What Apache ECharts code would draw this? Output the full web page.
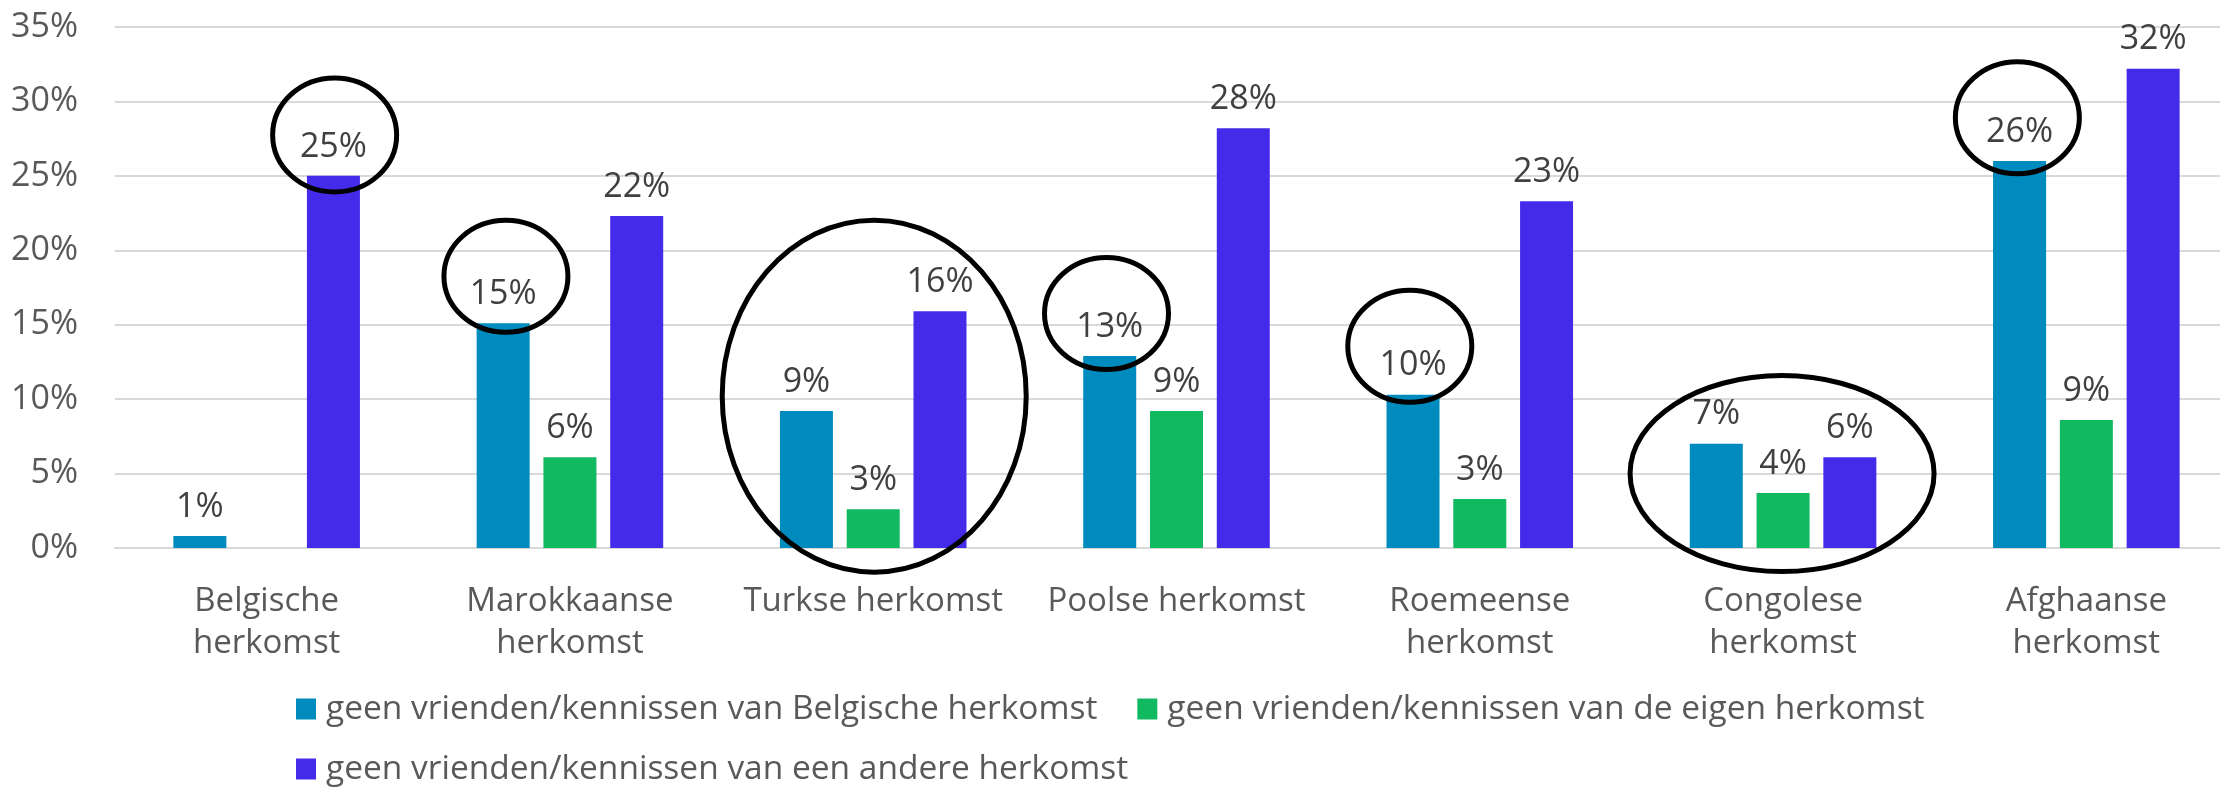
<!DOCTYPE html>
<html>
<head>
<meta charset="utf-8">
<script src="https://cdn.jsdelivr.net/npm/echarts@6/dist/echarts.min.js"></script>
<style>
  html, body { margin: 0; padding: 0; background: #fff; }
  #chart { width: 2220px; height: 787px; }
</style>
</head>
<body>
<div id="chart"></div>
<script>
var categories = ['Belgische herkomst', 'Marokkaanse herkomst', 'Turkse herkomst', 'Poolse herkomst',
    'Roemeense herkomst', 'Congolese herkomst', 'Afghaanse herkomst'];
var seriesNames = ['geen vrienden/kennissen van Belgische herkomst',
    'geen vrienden/kennissen van de eigen herkomst',
    'geen vrienden/kennissen van een andere herkomst'];
var geenBelgisch = [0.8, 15.1, 9.2, 12.9, 10.3, 7.0, 26.0];
var geenEigen = [null, 6.1, 2.6, 9.2, 3.3, 3.7, 8.6];
var geenAnder = [25.0, 22.3, 15.9, 28.2, 23.3, 6.1, 32.2];
var yTicks = [0, 5, 10, 15, 20, 25, 30, 35];

// omcirkelde waarden: categorie, hoogte (in %), verschuiving, straal
var circles = [
    {cat: 0, y: 27.75, dx: 68, rx: 62, ry: 57},
    {cat: 1, y: 18.25, dx: -64, rx: 62, ry: 56},
    {cat: 2, y: 10.2, dx: 1, rx: 152, ry: 176},
    {cat: 3, y: 15.75, dx: -70, rx: 62, ry: 56},
    {cat: 4, y: 13.55, dx: -70, rx: 62, ry: 56},
    {cat: 5, y: 5.0, dx: -1, rx: 152, ry: 98},
    {cat: 6, y: 28.9, dx: -69, rx: 62, ry: 56}
];

var colors = ['#008BBF', '#11BA60', '#432BE9'];
var font = '"Open Sans", sans-serif';

var chart = echarts.init(document.getElementById('chart'));

function barSeries(name, data, color) {
    return {
        name: name,
        type: 'bar',
        data: data,
        barWidth: 53,
        barGap: '26%',
        itemStyle: {color: color},
        label: {
            show: true,
            position: 'top',
            distance: 12,
            fontFamily: font,
            fontSize: 34,
            color: '#404040',
            formatter: function (p) {
                return Math.round(p.value) + '%';
            }
        }
    };
}

function legendRow(top, names) {
    return {
        left: 296,
        top: top,
        padding: 0,
        itemWidth: 20,
        itemHeight: 21,
        itemGap: 40,
        icon: 'rect',
        textStyle: {
            fontFamily: font,
            fontSize: 33.5,
            color: '#595959',
            padding: [0, 0, 0, 5]
        },
        data: names
    };
}

chart.setOption({
    animation: false,
    color: colors,
    grid: {left: 115, right: -18, top: 27, bottom: 239, outerBoundsMode: 'none'},
    legend: [
        legendRow(692, seriesNames.slice(0, 2)),
        legendRow(752, seriesNames.slice(2))
    ],
    xAxis: {
        type: 'category',
        data: categories,
        axisTick: {show: false},
        axisLine: {lineStyle: {color: '#d9d9d9', width: 2}},
        axisLabel: {
            interval: 0,
            margin: 33,
            fontFamily: font,
            fontSize: 33,
            lineHeight: 42,
            color: '#595959',
            formatter: function (v) {
                return v.length > 15 ? v.replace(' ', '\n') : v;
            }
        }
    },
    yAxis: {
        type: 'value',
        min: yTicks[0],
        max: yTicks[yTicks.length - 1],
        interval: 5,
        axisLine: {show: false},
        axisTick: {show: false},
        splitLine: {lineStyle: {color: '#d9d9d9', width: 2}},
        axisLabel: {
            margin: 37,
            fontFamily: font,
            fontSize: 34,
            color: '#595959',
            formatter: '{value}%'
        }
    },
    series: [
        barSeries(seriesNames[0], geenBelgisch, colors[0]),
        barSeries(seriesNames[1], geenEigen, colors[1]),
        barSeries(seriesNames[2], geenAnder, colors[2])
    ]
});

var graphics = circles.map(function (c) {
    var pt = chart.convertToPixel({xAxisIndex: 0, yAxisIndex: 0}, [c.cat, c.y]);
    return {
        type: 'ellipse',
        shape: {cx: pt[0] + c.dx, cy: pt[1], rx: c.rx, ry: c.ry},
        style: {fill: null, stroke: '#000', lineWidth: 5},
        z: 100
    };
});
chart.setOption({graphic: graphics});
</script>
</body>
</html>
